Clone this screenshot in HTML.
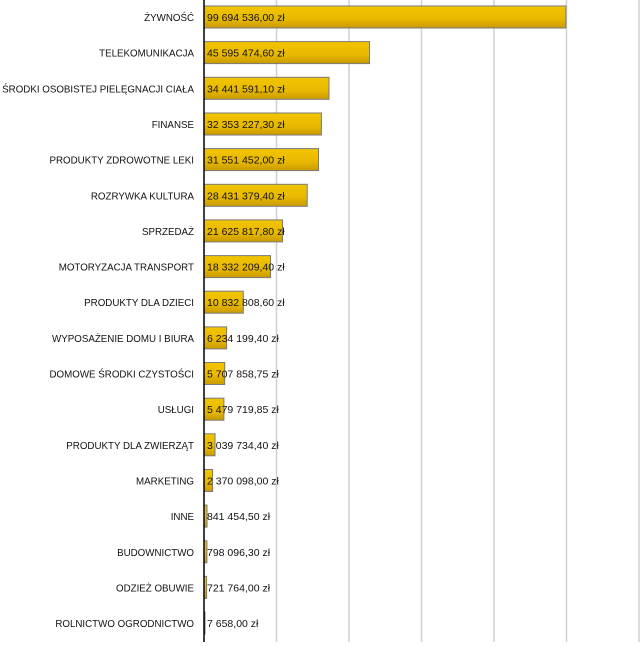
<!DOCTYPE html>
<html><head><meta charset="utf-8"><style>
body{margin:0;background:#fff;}
text{font-family:"Liberation Sans",sans-serif;font-size:10.5px;fill:#111;}
.l{text-anchor:end;}
</style></head><body>
<svg width="640" height="642" viewBox="0 0 640 642" xmlns="http://www.w3.org/2000/svg">
<defs><linearGradient id="g" x1="0" y1="0" x2="0" y2="1">
<stop offset="0" stop-color="#f2c500"/><stop offset="0.6" stop-color="#e8b800"/><stop offset="1" stop-color="#c89a00"/></linearGradient></defs>
<g stroke="#d0d0d0" stroke-width="1.5">
<line x1="276.5" y1="0" x2="276.5" y2="642"/><line x1="349" y1="0" x2="349" y2="642"/>
<line x1="421.5" y1="0" x2="421.5" y2="642"/><line x1="494" y1="0" x2="494" y2="642"/>
<line x1="566.5" y1="0" x2="566.5" y2="642"/><line x1="639" y1="0" x2="639" y2="642"/>
</g>
<g fill="url(#g)" stroke="#7a7a7a" stroke-width="1">
<rect x="204" y="6" width="361.9" height="22"/>
<rect x="204" y="41.6" width="165.5" height="22"/>
<rect x="204" y="77.3" width="125" height="22"/>
<rect x="204" y="113" width="117.4" height="22"/>
<rect x="204" y="148.6" width="114.5" height="22"/>
<rect x="204" y="184.3" width="103.2" height="22"/>
<rect x="204" y="219.9" width="78.5" height="22"/>
<rect x="204" y="255.6" width="66.5" height="22"/>
<rect x="204" y="291.2" width="39.3" height="22"/>
<rect x="204" y="326.9" width="22.6" height="22"/>
<rect x="204" y="362.5" width="20.7" height="22"/>
<rect x="204" y="398.2" width="19.9" height="22"/>
<rect x="204" y="433.8" width="11" height="22"/>
<rect x="204" y="469.5" width="8.6" height="22"/>
<rect x="204" y="505.1" width="3" height="22"/>
<rect x="204" y="540.8" width="2.9" height="22"/>
<rect x="204" y="576.4" width="2.6" height="22"/>
<rect x="204" y="612" width="1" height="22"/>
</g>
<g transform="translate(194,0) scale(0.93,1)">
<text class="l" x="0" y="21">ŻYWNOŚĆ</text>
<text class="l" x="0" y="56.6">TELEKOMUNIKACJA</text>
<text class="l" x="0" y="92.3">ŚRODKI OSOBISTEJ PIELĘGNACJI CIAŁA</text>
<text class="l" x="0" y="128">FINANSE</text>
<text class="l" x="0" y="163.6">PRODUKTY ZDROWOTNE LEKI</text>
<text class="l" x="0" y="199.3">ROZRYWKA KULTURA</text>
<text class="l" x="0" y="234.9">SPRZEDAŻ</text>
<text class="l" x="0" y="270.6">MOTORYZACJA TRANSPORT</text>
<text class="l" x="0" y="306.2">PRODUKTY DLA DZIECI</text>
<text class="l" x="0" y="341.9">WYPOSAŻENIE DOMU I BIURA</text>
<text class="l" x="0" y="377.5">DOMOWE ŚRODKI CZYSTOŚCI</text>
<text class="l" x="0" y="413.2">USŁUGI</text>
<text class="l" x="0" y="448.8">PRODUKTY DLA ZWIERZĄT</text>
<text class="l" x="0" y="484.5">MARKETING</text>
<text class="l" x="0" y="520.1">INNE</text>
<text class="l" x="0" y="555.8">BUDOWNICTWO</text>
<text class="l" x="0" y="591.4">ODZIEŻ OBUWIE</text>
<text class="l" x="0" y="627">ROLNICTWO OGRODNICTWO</text>
</g>
<g>
<text x="207" y="21">99 694 536,00 zł</text>
<text x="207" y="56.6">45 595 474,60 zł</text>
<text x="207" y="92.3">34 441 591,10 zł</text>
<text x="207" y="128">32 353 227,30 zł</text>
<text x="207" y="163.6">31 551 452,00 zł</text>
<text x="207" y="199.3">28 431 379,40 zł</text>
<text x="207" y="234.9">21 625 817,80 zł</text>
<text x="207" y="270.6">18 332 209,40 zł</text>
<text x="207" y="306.2">10 832 808,60 zł</text>
<text x="207" y="341.9">6 234 199,40 zł</text>
<text x="207" y="377.5">5 707 858,75 zł</text>
<text x="207" y="413.2">5 479 719,85 zł</text>
<text x="207" y="448.8">3 039 734,40 zł</text>
<text x="207" y="484.5">2 370 098,00 zł</text>
<text x="207" y="520.1">841 454,50 zł</text>
<text x="207" y="555.8">798 096,30 zł</text>
<text x="207" y="591.4">721 764,00 zł</text>
<text x="207" y="627">7 658,00 zł</text>
</g>
<line x1="204" y1="0" x2="204" y2="642" stroke="#000" stroke-width="1.5"/>
</svg>
</body></html>
